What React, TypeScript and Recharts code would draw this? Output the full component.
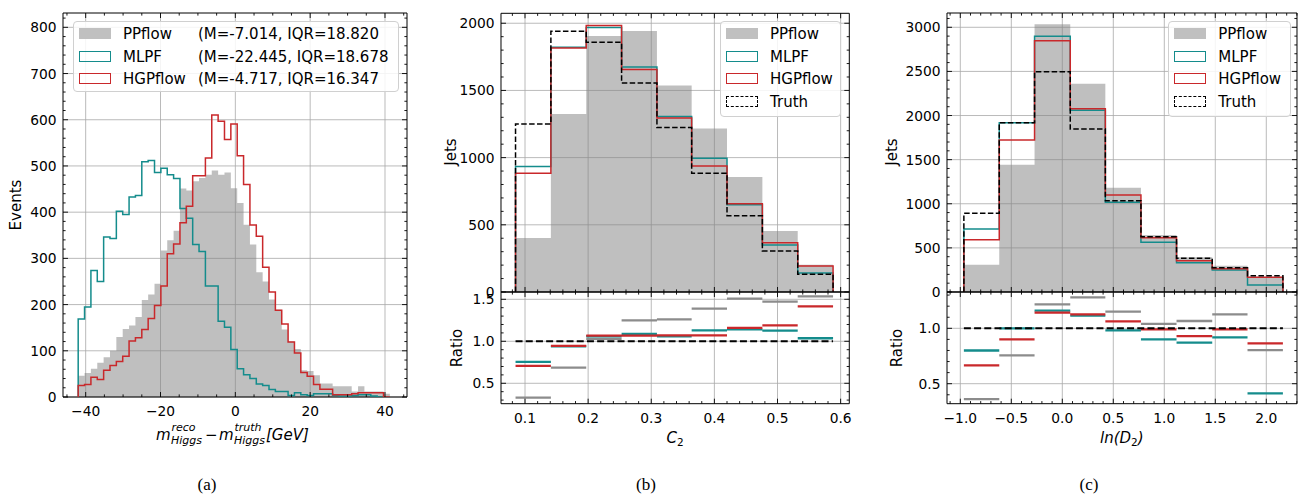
import React from 'react';
import {
  ComposedChart,
  Area,
  Line,
  XAxis,
  YAxis,
  CartesianGrid,
  ReferenceArea,
  Legend,
} from 'recharts';

// ---------------- colours / fonts ----------------
const TEAL = '#148c8c';
const RED = '#c9282b';
const GRAY_FILL = '#808080';
const RATIO_GRAY = '#8c8c8c';
const GRID = '#a8a8a8';
const FONT = '"DejaVu Sans", sans-serif';
const SERIF = '"Liberation Serif", "Times New Roman", serif';
const TICK_FS = 13.8;

// ---------------- panel (a) data ----------------
const aBinStart = -42;
const aBinWidth = 1.7;
const aPPflow = [46, 52, 61, 74, 86, 100, 130, 147, 155, 173, 210, 222, 245, 317, 339, 360, 451, 447, 467, 474, 481, 490, 481, 486, 452, 420, 373, 330, 270, 250, 211, 189, 146, 120, 104, 58, 56, 47, 29, 29, 23, 23, 23, 12, 23, 12, 12, 12, 7];
const aMLPF = [169, 195, 274, 250, 346, 343, 402, 395, 433, 436, 509, 512, 486, 495, 481, 473, 408, 387, 330, 315, 240, 240, 164, 151, 103, 61, 48, 40, 28, 25, 16, 12, 12, 3, 9, 5, 3, 7, 7, 7, 3, 2, 2, 3, 5, 5, 2, 0, 0];
const aHGPflow = [25, 27, 43, 38, 58, 68, 77, 88, 121, 128, 146, 170, 198, 240, 310, 331, 377, 413, 479, 479, 517, 610, 597, 557, 591, 522, 460, 372, 348, 281, 227, 188, 158, 119, 95, 53, 45, 27, 17, 17, 5, 5, 5, 7, 9, 9, 9, 9, 0];
const aLegendLabels = ['PPflow', 'MLPF', 'HGPflow'];
const aLegendStats = ['(M=-7.014, IQR=18.820', '(M=-22.445, IQR=18.678', '(M=-4.717, IQR=16.347'];
const aXMajor = [-40, -20, 0, 20, 40];
const aYMajor = [0, 100, 200, 300, 400, 500, 600, 700, 800];
const aXDomain: [number, number] = [-46.06, 45.88];
const aYDomain: [number, number] = [0, 831];

// ---------------- panel (b) data ----------------
const bEdges = [0.085, 0.141, 0.197, 0.253, 0.309, 0.364, 0.42, 0.476, 0.532, 0.588];
const bPPflow = [402, 1325, 1906, 1943, 1536, 1216, 856, 454, 203];
const bMLPF = [933, 1821, 1968, 1675, 1306, 995, 649, 349, 142];
const bHGPflow = [884, 1815, 1983, 1655, 1295, 938, 657, 366, 194];
const bTruth = [1251, 1940, 1858, 1555, 1224, 884, 567, 306, 132];
const bRatioPPflow = [0.33, 0.687, 1.03, 1.25, 1.26, 1.39, 1.508, 1.473, 1.536];
const bRatioMLPF = [0.755, 0.94, 1.06, 1.087, 1.06, 1.13, 1.143, 1.127, 1.036];
const bRatioHGPflow = [0.707, 0.945, 1.068, 1.068, 1.07, 1.07, 1.16, 1.19, 1.417];
const bRatioTruth = [1, 1, 1, 1, 1, 1, 1, 1, 1];
const bXMajor = [0.1, 0.2, 0.3, 0.4, 0.5, 0.6];
const bYMajor = [0, 500, 1000, 1500, 2000];
const bRMajor = [0.5, 1.0, 1.5];
const bXDomain: [number, number] = [0.06198, 0.6137];
const bYDomain: [number, number] = [0, 2074];
const bRDomain: [number, number] = [0.257, 1.587];

// ---------------- panel (c) data ----------------
const cEdges = [-0.965, -0.618, -0.272, 0.078, 0.422, 0.771, 1.12, 1.47, 1.816, 2.163];
const cPPflow = [310, 1443, 3034, 2361, 1182, 646, 393, 298, 172];
const cMLPF = [714, 1919, 2898, 2059, 1017, 563, 332, 249, 79];
const cHGPflow = [593, 1723, 2848, 2078, 1099, 615, 355, 264, 166];
const cTruth = [892, 1919, 2497, 1847, 1035, 627, 382, 276, 185];
const cRatioPPflow = [0.36, 0.756, 1.217, 1.28, 1.15, 1.04, 1.066, 1.126, 0.804];
const cRatioMLPF = [0.8, 1.0, 1.159, 1.115, 0.982, 0.9, 0.87, 0.919, 0.413];
const cRatioHGPflow = [0.666, 0.9, 1.141, 1.126, 1.063, 0.99, 0.93, 0.99, 0.865];
const cRatioTruth = [1, 1, 1, 1, 1, 1, 1, 1, 1];
const cXMajor = [-1.0, -0.5, 0.0, 0.5, 1.0, 1.5, 2.0];
const cYMajor = [0, 500, 1000, 1500, 2000, 2500, 3000];
const cRMajor = [0.5, 1.0];
const cXDomain: [number, number] = [-1.1304, 2.301];
const cYDomain: [number, number] = [0, 3162];
const cRDomain: [number, number] = [0.3195, 1.328];

const legendLabels4 = ['PPflow', 'MLPF', 'HGPflow', 'Truth'];

// ---------------- helpers ----------------
function tickRange(lo: number, hi: number, step: number): number[] {
  const out: number[] = [];
  const n0 = Math.ceil(lo / step - 1e-9);
  const n1 = Math.floor(hi / step + 1e-9);
  for (let n = n0; n <= n1; n++) out.push(+(n * step).toFixed(6));
  return out;
}

function stepRows(edges: number[], series: Record<string, number[]>) {
  const keys = Object.keys(series);
  const rows: any[] = [];
  const zero: any = { x: edges[0] };
  keys.forEach((k) => (zero[k] = 0));
  rows.push(zero);
  for (let i = 0; i < edges.length - 1; i++) {
    const r: any = { x: edges[i] };
    keys.forEach((k) => (r[k] = series[k][i]));
    rows.push(r);
  }
  const n = edges.length - 1;
  const last: any = { x: edges[n] };
  keys.forEach((k) => (last[k] = series[k][n - 1]));
  rows.push(last);
  const end: any = { x: edges[n] };
  keys.forEach((k) => (end[k] = 0));
  rows.push(end);
  return rows;
}

function segmentRows(edges: number[], series: Record<string, number[]>, continuous: Record<string, number[]>) {
  const keys = Object.keys(series);
  const ckeys = Object.keys(continuous);
  const rows: any[] = [];
  const n = edges.length - 1;
  for (let i = 0; i < n; i++) {
    const a: any = { x: edges[i] };
    const b: any = { x: edges[i + 1] };
    keys.forEach((k) => {
      a[k] = series[k][i];
      b[k] = series[k][i];
    });
    ckeys.forEach((k) => {
      a[k] = continuous[k][i];
      b[k] = continuous[k][i];
    });
    rows.push(a, b);
    if (i < n - 1) {
      const g: any = { x: edges[i + 1] };
      keys.forEach((k) => (g[k] = null));
      ckeys.forEach((k) => (g[k] = continuous[k][i]));
      rows.push(g);
    }
  }
  return rows;
}

const isMajor = (majors: number[], v: number) => majors.some((m) => Math.abs(m - v) < 1e-6);
const fmtInt = (v: number) => (v < -1e-9 ? '\u2212' : '') + Math.abs(v).toFixed(0);
const fmt1 = (v: number) => (v < -1e-9 ? '\u2212' : '') + Math.abs(v).toFixed(1);

type TickOpts = { majors: number[]; span: number; label: boolean; fmt: (v: number) => string };

function makeXTick(o: TickOpts) {
  return (props: any) => {
    const { x, y, payload } = props;
    const major = isMajor(o.majors, payload.value);
    const len = major ? 5 : 2.6;
    return (
      <g>
        <line x1={x} x2={x} y1={y} y2={y - len} stroke="#000" strokeWidth={0.9} />
        <line x1={x} x2={x} y1={y - o.span} y2={y - o.span + len} stroke="#000" strokeWidth={0.9} />
        {major && o.label ? (
          <text x={x} y={y + 19} textAnchor="middle" fontSize={TICK_FS} fontFamily={FONT} fill="#000">
            {o.fmt(payload.value)}
          </text>
        ) : null}
      </g>
    );
  };
}

function makeYTick(o: TickOpts) {
  return (props: any) => {
    const { x, y, payload } = props;
    const major = isMajor(o.majors, payload.value);
    const len = major ? 5 : 2.6;
    return (
      <g>
        <line x1={x} x2={x + len} y1={y} y2={y} stroke="#000" strokeWidth={0.9} />
        <line x1={x + o.span} x2={x + o.span - len} y1={y} y2={y} stroke="#000" strokeWidth={0.9} />
        {major && o.label ? (
          <text x={x - 6.5} y={y + 5} textAnchor="end" fontSize={TICK_FS} fontFamily={FONT} fill="#000">
            {o.fmt(payload.value)}
          </text>
        ) : null}
      </g>
    );
  };
}

type LegendItem = { label: string; stats?: string; kind: 'fill' | 'line' | 'dash'; color: string };

function LegendBox(props: { items: LegendItem[]; width: number; height: number; statsLeft?: number }) {
  const { items, width, height, statsLeft } = props;
  return (
    <div
      style={{
        position: 'relative',
        width,
        height,
        border: '1px solid #d0d0d0',
        borderRadius: 4,
        background: 'rgba(255,255,255,0.85)',
        boxSizing: 'border-box',
        fontFamily: FONT,
        fontSize: 15,
        color: '#000',
      }}
    >
      {items.map((it, i) => {
        const cy = 12.2 + i * 22.6;
        const patch: React.CSSProperties = {
          position: 'absolute',
          left: 5,
          top: cy - 6,
          width: 32,
          height: 11,
          boxSizing: 'border-box',
        };
        if (it.kind === 'fill') patch.background = '#c0c0c0';
        else if (it.kind === 'line') patch.border = `1.6px solid ${it.color}`;
        else patch.border = `1.6px dashed ${it.color}`;
        return (
          <React.Fragment key={i}>
            <div style={patch} />
            <div style={{ position: 'absolute', left: 49, top: cy - 11, lineHeight: '22px', whiteSpace: 'nowrap' }}>
              {it.label}
            </div>
            {it.stats ? (
              <div
                style={{ position: 'absolute', left: statsLeft, top: cy - 11, lineHeight: '22px', whiteSpace: 'nowrap' }}
              >
                {it.stats}
              </div>
            ) : null}
          </React.Fragment>
        );
      })}
    </div>
  );
}

const legendWrapper = (left: number, top: number) => ({ left, top, width: 'auto', height: 'auto' });

// ---------------- charts ----------------
const aEdges = Array.from({ length: aPPflow.length + 1 }, (_, k) => aBinStart + aBinWidth * k);

function PanelA() {
  const data = stepRows(aEdges, { pp: aPPflow, ml: aMLPF, hg: aHGPflow });
  const plotW = 344;
  const plotH = 384;
  const items: LegendItem[] = [
    { label: aLegendLabels[0], stats: aLegendStats[0], kind: 'fill', color: '#c0c0c0' },
    { label: aLegendLabels[1], stats: aLegendStats[1], kind: 'line', color: TEAL },
    { label: aLegendLabels[2], stats: aLegendStats[2], kind: 'line', color: RED },
  ];
  return (
    <div style={{ position: 'absolute', left: 0, top: 0 }}>
      <ComposedChart width={420} height={440} data={data} margin={{ top: 13, right: 13, bottom: 0, left: 3 }}>
        <CartesianGrid stroke={GRID} strokeWidth={0.8} verticalValues={aXMajor} horizontalValues={aYMajor} />
        <XAxis
          dataKey="x"
          type="number"
          domain={aXDomain}
          allowDataOverflow
          ticks={tickRange(aXDomain[0], aXDomain[1], 5)}
          interval={0}
          tickSize={0}
          tickMargin={0}
          tickLine={false}
          axisLine={false}
          height={43}
          tick={makeXTick({ majors: aXMajor, span: plotH, label: true, fmt: fmtInt })}
        />
        <YAxis
          type="number"
          domain={aYDomain}
          allowDataOverflow
          ticks={tickRange(aYDomain[0], aYDomain[1], 20)}
          interval={0}
          tickSize={0}
          tickMargin={0}
          tickLine={false}
          axisLine={false}
          width={60}
          tick={makeYTick({ majors: aYMajor, span: plotW, label: true, fmt: fmtInt })}
        />
        <Area type="stepAfter" dataKey="pp" stroke="none" fill={GRAY_FILL} fillOpacity={0.5} isAnimationActive={false} activeDot={false} />
        <Line type="stepAfter" dataKey="ml" stroke={TEAL} strokeWidth={1.5} dot={false} activeDot={false} isAnimationActive={false} />
        <Line type="stepAfter" dataKey="hg" stroke={RED} strokeWidth={1.5} dot={false} activeDot={false} isAnimationActive={false} />
        <ReferenceArea x1={aXDomain[0]} x2={aXDomain[1]} y1={aYDomain[0]} y2={aYDomain[1]} fill="none" fillOpacity={0} stroke="#000" strokeWidth={1} ifOverflow="visible" />
        <Legend
          layout="horizontal"
          verticalAlign="middle"
          align="center"
          wrapperStyle={legendWrapper(73, 21)}
          content={() => <LegendBox items={items} width={326} height={71} statsLeft={124} />}
        />
      </ComposedChart>
    </div>
  );
}

function HistPanel(props: {
  left: number;
  plotW: number;
  rightMargin: number;
  plotTop: number;
  edges: number[];
  pp: number[];
  ml: number[];
  hg: number[];
  tr: number[];
  xDomain: [number, number];
  yDomain: [number, number];
  xMajor: number[];
  xMinorStep: number;
  yMajor: number[];
  yMinorStep: number;
  legendLeft: number;
  legendWidth: number;
}) {
  const p = props;
  const data = stepRows(p.edges, { pp: p.pp, ml: p.ml, hg: p.hg, tr: p.tr });
  const plotBottom = 292;
  const axisH = 14;
  const plotH = plotBottom - p.plotTop;
  const width = 60 + p.plotW + p.rightMargin;
  const items: LegendItem[] = [
    { label: legendLabels4[0], kind: 'fill', color: '#c0c0c0' },
    { label: legendLabels4[1], kind: 'line', color: TEAL },
    { label: legendLabels4[2], kind: 'line', color: RED },
    { label: legendLabels4[3], kind: 'dash', color: '#000' },
  ];
  return (
    <div style={{ position: 'absolute', left: p.left, top: 0 }}>
      <ComposedChart width={width} height={plotBottom + axisH} data={data} margin={{ top: p.plotTop, right: p.rightMargin, bottom: 0, left: 0 }}>
        <CartesianGrid stroke={GRID} strokeWidth={0.8} verticalValues={p.xMajor} horizontalValues={p.yMajor} />
        <XAxis
          dataKey="x"
          type="number"
          domain={p.xDomain}
          allowDataOverflow
          ticks={tickRange(p.xDomain[0], p.xDomain[1], p.xMinorStep)}
          interval={0}
          tickSize={0}
          tickMargin={0}
          tickLine={false}
          axisLine={false}
          height={axisH}
          tick={makeXTick({ majors: p.xMajor, span: plotH, label: false, fmt: fmt1 })}
        />
        <YAxis
          type="number"
          domain={p.yDomain}
          allowDataOverflow
          ticks={tickRange(p.yDomain[0], p.yDomain[1], p.yMinorStep)}
          interval={0}
          tickSize={0}
          tickMargin={0}
          tickLine={false}
          axisLine={false}
          width={60}
          tick={makeYTick({ majors: p.yMajor, span: p.plotW, label: true, fmt: fmtInt })}
        />
        <Area type="stepAfter" dataKey="pp" stroke="none" fill={GRAY_FILL} fillOpacity={0.5} isAnimationActive={false} activeDot={false} />
        <Line type="stepAfter" dataKey="ml" stroke={TEAL} strokeWidth={1.5} dot={false} activeDot={false} isAnimationActive={false} />
        <Line type="stepAfter" dataKey="hg" stroke={RED} strokeWidth={1.5} dot={false} activeDot={false} isAnimationActive={false} />
        <Line type="stepAfter" dataKey="tr" stroke="#000" strokeWidth={1.5} strokeDasharray="5.5 2.4" dot={false} activeDot={false} isAnimationActive={false} />
        <ReferenceArea x1={p.xDomain[0]} x2={p.xDomain[1]} y1={p.yDomain[0]} y2={p.yDomain[1]} fill="none" fillOpacity={0} stroke="#000" strokeWidth={1} ifOverflow="visible" />
        <Legend
          layout="horizontal"
          verticalAlign="middle"
          align="center"
          wrapperStyle={legendWrapper(p.legendLeft, 21)}
          content={() => <LegendBox items={items} width={p.legendWidth} height={96} />}
        />
      </ComposedChart>
    </div>
  );
}

function RatioPanel(props: {
  left: number;
  plotW: number;
  rightMargin: number;
  edges: number[];
  pp: number[];
  ml: number[];
  hg: number[];
  tr: number[];
  xDomain: [number, number];
  yDomain: [number, number];
  xMajor: number[];
  xMinorStep: number;
  yMajor: number[];
}) {
  const p = props;
  const data = segmentRows(p.edges, { pp: p.pp, ml: p.ml, hg: p.hg }, { tr: p.tr });
  const top = 282;
  const plotTop = 292 - top;
  const plotH = 403.7 - 292;
  const width = 60 + p.plotW + p.rightMargin;
  return (
    <div style={{ position: 'absolute', left: p.left, top }}>
      <ComposedChart width={width} height={plotTop + plotH + 30} data={data} margin={{ top: plotTop, right: p.rightMargin, bottom: 0, left: 0 }}>
        <CartesianGrid stroke={GRID} strokeWidth={0.8} verticalValues={p.xMajor} horizontalValues={p.yMajor} />
        <XAxis
          dataKey="x"
          type="number"
          domain={p.xDomain}
          allowDataOverflow
          ticks={tickRange(p.xDomain[0], p.xDomain[1], p.xMinorStep)}
          interval={0}
          tickSize={0}
          tickMargin={0}
          tickLine={false}
          axisLine={false}
          height={30}
          tick={makeXTick({ majors: p.xMajor, span: plotH, label: true, fmt: fmt1 })}
        />
        <YAxis
          type="number"
          domain={p.yDomain}
          allowDataOverflow
          ticks={tickRange(p.yDomain[0], p.yDomain[1], 0.1)}
          interval={0}
          tickSize={0}
          tickMargin={0}
          tickLine={false}
          axisLine={false}
          width={60}
          tick={makeYTick({ majors: p.yMajor, span: p.plotW, label: true, fmt: fmt1 })}
        />
        <Line type="linear" dataKey="pp" stroke={RATIO_GRAY} strokeWidth={2.3} dot={false} activeDot={false} isAnimationActive={false} />
        <Line type="linear" dataKey="ml" stroke={TEAL} strokeWidth={2.3} dot={false} activeDot={false} isAnimationActive={false} />
        <Line type="linear" dataKey="hg" stroke={RED} strokeWidth={2.3} dot={false} activeDot={false} isAnimationActive={false} />
        <Line type="linear" dataKey="tr" stroke="#000" strokeWidth={2} strokeDasharray="7 3.2" dot={false} activeDot={false} isAnimationActive={false} />
        <ReferenceArea x1={p.xDomain[0]} x2={p.xDomain[1]} y1={p.yDomain[0]} y2={p.yDomain[1]} fill="none" fillOpacity={0} stroke="#000" strokeWidth={1} ifOverflow="visible" />
      </ComposedChart>
    </div>
  );
}

function Labels() {
  const t = { fontFamily: FONT, fill: '#000' } as const;
  return (
    <svg width={1298} height={498} style={{ position: 'absolute', left: 0, top: 0, pointerEvents: 'none' }}>
      {/* panel (a) */}
      <text {...t} fontSize={15} textAnchor="middle" transform="translate(21,205) rotate(-90)">Events</text>
      <text {...t} fontSize={15} fontStyle="italic" x={156} y={440}>m</text>
      <text {...t} fontSize={11} fontStyle="italic" x={171.5} y={430.5}>reco</text>
      <text {...t} fontSize={11} fontStyle="italic" x={171} y={443.5}>Higgs</text>
      <text {...t} fontSize={15} x={205} y={440}>{'\u2212'}</text>
      <text {...t} fontSize={15} fontStyle="italic" x={219} y={440}>m</text>
      <text {...t} fontSize={11} fontStyle="italic" x={234.5} y={430.5}>truth</text>
      <text {...t} fontSize={11} fontStyle="italic" x={234} y={443.5}>Higgs</text>
      <text {...t} fontSize={15} fontStyle="italic" x={266} y={440}>[GeV]</text>
      <text fontFamily={SERIF} fontSize={17} fill="#000" x={207} y={490} textAnchor="middle">(a)</text>

      {/* panel (b) */}
      <text {...t} fontSize={15} textAnchor="middle" transform="translate(455.5,152) rotate(-90)">Jets</text>
      <text {...t} fontSize={15} textAnchor="middle" transform="translate(462,348) rotate(-90)">Ratio</text>
      <text {...t} fontSize={15} fontStyle="italic" x={666.5} y={443.3}>
        C<tspan fontSize={10.5} fontStyle="normal" dy={2.8}>2</tspan>
      </text>
      <text fontFamily={SERIF} fontSize={17} fill="#000" x={646} y={490} textAnchor="middle">(b)</text>

      {/* panel (c) */}
      <text {...t} fontSize={15} textAnchor="middle" transform="translate(897,152) rotate(-90)">Jets</text>
      <text {...t} fontSize={15} textAnchor="middle" transform="translate(902,348) rotate(-90)">Ratio</text>
      <text {...t} fontSize={15} fontStyle="italic" x={1100} y={443}>
        ln(D<tspan fontSize={10.5} fontStyle="normal" dy={2.8}>2</tspan>
        <tspan dy={-2.8}>)</tspan>
      </text>
      <text fontFamily={SERIF} fontSize={17} fill="#000" x={1089} y={490} textAnchor="middle">(c)</text>
    </svg>
  );
}

export default function App() {
  return (
    <div
      style={{
        position: 'absolute',
        left: 0,
        top: 0,
        width: 1298,
        height: 498,
        background: '#fff',
        overflow: 'hidden',
        fontFamily: FONT,
      }}
    >
      <PanelA />
      <HistPanel
        left={441}
        plotW={348.3}
        rightMargin={10}
        plotTop={13.3}
        edges={bEdges}
        pp={bPPflow}
        ml={bMLPF}
        hg={bHGPflow}
        tr={bTruth}
        xDomain={bXDomain}
        yDomain={bYDomain}
        xMajor={bXMajor}
        xMinorStep={0.02}
        yMajor={bYMajor}
        yMinorStep={100}
        legendLeft={279}
        legendWidth={121}
      />
      <RatioPanel
        left={441}
        plotW={348.3}
        rightMargin={10}
        edges={bEdges}
        pp={bRatioPPflow}
        ml={bRatioMLPF}
        hg={bRatioHGPflow}
        tr={bRatioTruth}
        xDomain={bXDomain}
        yDomain={bRDomain}
        xMajor={bXMajor}
        xMinorStep={0.02}
        yMajor={bRMajor}
      />
      <HistPanel
        left={886.7}
        plotW={350}
        rightMargin={1.3}
        plotTop={13}
        edges={cEdges}
        pp={cPPflow}
        ml={cMLPF}
        hg={cHGPflow}
        tr={cTruth}
        xDomain={cXDomain}
        yDomain={cYDomain}
        xMajor={cXMajor}
        xMinorStep={0.1}
        yMajor={cYMajor}
        yMinorStep={100}
        legendLeft={281.6}
        legendWidth={123}
      />
      <RatioPanel
        left={886.7}
        plotW={350}
        rightMargin={1.3}
        edges={cEdges}
        pp={cRatioPPflow}
        ml={cRatioMLPF}
        hg={cRatioHGPflow}
        tr={cRatioTruth}
        xDomain={cXDomain}
        yDomain={cRDomain}
        xMajor={cXMajor}
        xMinorStep={0.1}
        yMajor={cRMajor}
      />
      <Labels />
    </div>
  );
}
